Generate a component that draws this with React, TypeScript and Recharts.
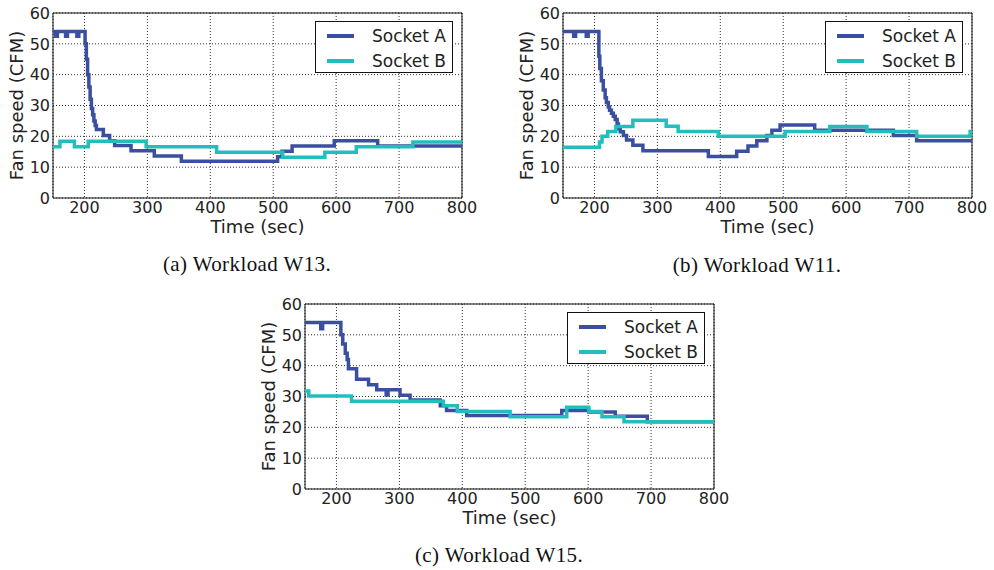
import React from "react";
import {
  CartesianGrid,
  Legend,
  Line,
  LineChart,
  ReferenceArea,
  XAxis,
  YAxis,
} from "recharts";

// [time (sec), fan speed (CFM)] step points
const w13SocketA = [
  [150, 54], [154, 52.5], [157, 54], [170, 52.5], [173, 54], [188, 52.5], [191, 54],
  [201, 50], [203, 45], [205, 40], [207, 36], [209, 32], [211, 29], [213, 27],
  [215, 25], [217, 23.5], [219, 22.2], [230, 20.3], [240, 18.6], [248, 17],
  [274, 15.3], [311, 13.6], [354, 11.9], [507, 13.4], [514, 15.2], [530, 16.9],
  [597, 18.6], [666, 16.9], [800, 16.9],
];
const w13SocketB = [
  [150, 16.6], [161, 18.4], [184, 16.6], [206, 18.4], [298, 16.6], [410, 14.8],
  [515, 13.2], [582, 14.8], [632, 16.6], [722, 18.2], [800, 18.2],
];

const w11SocketA = [
  [150, 54], [167, 52.5], [170, 54], [187, 52.5], [190, 54], [205, 54],
  [207, 46], [208.5, 42], [211, 38], [214, 35], [217, 32.5], [219, 31],
  [222, 29.5], [224, 28.5], [227, 27.5], [230, 26.5], [233, 25.5], [236, 24],
  [238, 22.5], [241, 21.5], [246, 20.3], [251, 18.8], [261, 17.1], [277, 15.3],
  [381, 13.5], [426, 15.2], [444, 16.9], [458, 18.6], [474, 20.3], [482, 22],
  [495, 23.7], [550, 22], [675, 20.3], [712, 18.6], [800, 18.6],
];
const w11SocketB = [
  [150, 16.5], [205, 16.5], [208, 18.2], [212, 20], [221, 21.6], [234, 23.2],
  [261, 25.2], [314, 23.3], [333, 21.6], [397, 20], [503, 21.6], [574, 23.2],
  [633, 21.6], [712, 20], [797, 21.6], [800, 21.6],
];

const w15SocketA = [
  [150, 54], [175, 52], [178, 54], [207, 50], [210, 47], [214, 44], [217, 42],
  [219, 39], [232, 35.6], [251, 33.8], [264, 32.2], [279, 30.5], [282, 32.2],
  [301, 30.4], [317, 28.9], [365, 27], [375, 25.5], [407, 23.8], [558, 25.5],
  [601, 25], [643, 23.6], [694, 21.8], [800, 21.8],
];
const w15SocketB = [
  [150, 31.8], [156, 30.2], [224, 28.5], [370, 27], [392, 25.1], [476, 23.4],
  [566, 26.5], [601, 25.1], [622, 23.4], [657, 21.8], [800, 21.8],
];

const ticksX = [200, 300, 400, 500, 600, 700, 800];
const ticksY = [0, 10, 20, 30, 40, 50, 60];
const seriesNames = ["Socket A", "Socket B"];
const seriesColors = ["#3a4f9f", "#22bebe"];

const toPoints = (pairs: number[][]) => pairs.map(([t, v]) => ({ t, v }));

const font = "'DejaVu Sans', sans-serif";

const LegendBox = () => (
  <div
    style={{
      width: 136,
      height: 50,
      border: "1px solid #111",
      background: "#fff",
      fontFamily: font,
      fontSize: 17,
      color: "#222",
      boxSizing: "content-box",
    }}
  >
    {seriesNames.map((name, i) => (
      <div key={name} style={{ display: "flex", alignItems: "center", height: 25, marginTop: i === 0 ? 1 : 0 }}>
        <div style={{ width: 27, height: 4, background: seriesColors[i], marginLeft: 11, marginRight: 18 }} />
        <span>{name}</span>
      </div>
    ))}
  </div>
);

interface PanelProps {
  left: number;
  top: number;
  socketA: number[][];
  socketB: number[][];
}

const Panel = ({ left, top, socketA, socketB }: PanelProps) => (
  <div style={{ position: "absolute", left, top }}>
    <LineChart width={480} height={240} margin={{ top: 13, right: 18, bottom: 0, left: 0 }}>
      <CartesianGrid stroke="#333" strokeDasharray="1 2" />
      <XAxis
        dataKey="t"
        type="number"
        domain={[150, 800]}
        allowDataOverflow
        ticks={ticksX}
        height={42}
        axisLine={false}
        tickLine={false}
        tickSize={0}
        tickMargin={4}
        tick={{ fontSize: 16, fill: "#222", fontFamily: font }}
        label={{
          value: "Time (sec)",
          position: "insideBottom",
          offset: 7,
          style: { fontSize: 18, fill: "#222", fontFamily: font },
        }}
      />
      <YAxis
        type="number"
        domain={[0, 60]}
        ticks={ticksY}
        width={53}
        axisLine={false}
        tickLine={false}
        tickSize={0}
        tickMargin={3}
        tick={{ fontSize: 16, fill: "#222", fontFamily: font }}
        label={{
          value: "Fan speed (CFM)",
          angle: -90,
          position: "insideLeft",
          offset: 17,
          style: { textAnchor: "middle", fontSize: 18, fill: "#222", fontFamily: font },
        }}
      />
      <ReferenceArea x1={150} x2={800} y1={0} y2={60} fill="none" stroke="#111" strokeWidth={1} />
      <Line
        data={toPoints(socketA)}
        dataKey="v"
        name={seriesNames[0]}
        type="stepAfter"
        stroke={seriesColors[0]}
        strokeWidth={3.5}
        dot={false}
        isAnimationActive={false}
      />
      <Line
        data={toPoints(socketB)}
        dataKey="v"
        name={seriesNames[1]}
        type="stepAfter"
        stroke={seriesColors[1]}
        strokeWidth={3.5}
        dot={false}
        isAnimationActive={false}
      />
      <Legend
        layout="vertical"
        align="center"
        verticalAlign="middle"
        wrapperStyle={{ left: 315, top: 21, width: 138, height: 52 }}
        content={() => <LegendBox />}
      />
    </LineChart>
  </div>
);

const captionStyle: React.CSSProperties = {
  position: "absolute",
  transform: "translate(-50%, -50%)",
  fontFamily: "'Liberation Serif', serif",
  fontSize: 21,
  letterSpacing: 0.4,
  color: "#111",
  whiteSpace: "nowrap",
};

export default function App() {
  return (
    <div style={{ position: "absolute", left: 0, top: 0, width: 994, height: 570, background: "#fff" }}>
      <Panel left={0} top={0} socketA={w13SocketA} socketB={w13SocketB} />
      <Panel left={510} top={0} socketA={w11SocketA} socketB={w11SocketB} />
      <Panel left={252} top={291} socketA={w15SocketA} socketB={w15SocketB} />
      <div style={{ ...captionStyle, left: 247, top: 264 }}>(a) Workload W13.</div>
      <div style={{ ...captionStyle, left: 757, top: 265 }}>(b) Workload W11.</div>
      <div style={{ ...captionStyle, left: 499, top: 555 }}>(c) Workload W15.</div>
    </div>
  );
}
